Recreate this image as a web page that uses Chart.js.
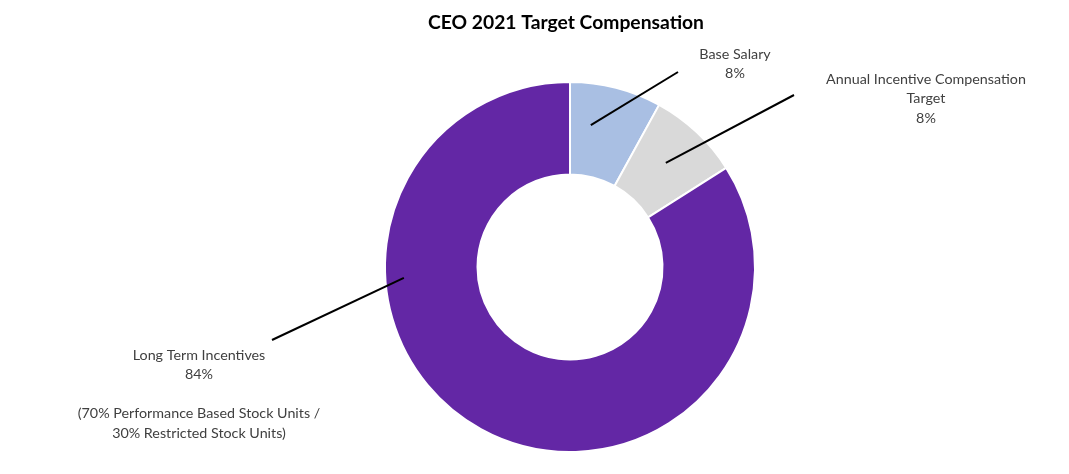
<!DOCTYPE html>
<html>
<head>
<meta charset="utf-8">
<script src="https://cdn.jsdelivr.net/npm/chart.js@4/dist/chart.umd.min.js"></script>
<style>
html,body{margin:0;padding:0;background:#fff;}
#wrap{width:1069px;height:474px;position:relative;}
</style>
</head>
<body>
<div id="wrap"><canvas id="c" width="1069" height="474"></canvas></div>
<script>
const titleText = "CEO 2021 Target Compensation";
const categories = ["Base Salary", "Annual Incentive Compensation Target", "Long Term Incentives"];
const values = [8, 8, 84];
const valueLabels = ["8%", "8%", "84%"];
const labelLines = [
  ["Base Salary", "8%"],
  ["Annual Incentive Compensation", "Target", "8%"],
  ["Long Term Incentives", "84%", "", "(70% Performance Based Stock Units /", "30% Restricted Stock Units)"]
];
const colors = ["#A9BFE3", "#D9D9D9", "#6327A5"];

// leader line geometry (style): start as fraction along slice angle & radius fraction; end as offset from centre; text anchor offset
const leaders = [
  {t:0.29, r:0.775, end:[108,-195], text:[165,-213]},
  {t:0.48, r:0.765, end:[224,-172], text:[356,-188]},
  {t:0.69, r:0.90,  end:[-298,73],  text:[-371,88]}
];

const FONT = "Lato, 'Open Sans', sans-serif";

const labelPlugin = {
  id: 'labelPlugin',
  afterDatasetsDraw(chart) {
    const ctx = chart.ctx;
    const meta = chart.getDatasetMeta(0);
    ctx.save();
    // title
    ctx.fillStyle = "#000";
    ctx.font = "bold 19.3px " + FONT;
    ctx.textAlign = "center";
    ctx.textBaseline = "middle";
    ctx.fillText(titleText, 566, 23);
    meta.data.forEach((arc, i) => {
      const p = arc.getProps(['x','y','startAngle','endAngle','outerRadius'], true);
      const L = leaders[i];
      const ang = p.startAngle + L.t * (p.endAngle - p.startAngle);
      const sx = p.x + Math.cos(ang) * p.outerRadius * L.r;
      const sy = p.y + Math.sin(ang) * p.outerRadius * L.r;
      ctx.strokeStyle = "#000";
      ctx.lineWidth = 2;
      ctx.beginPath();
      ctx.moveTo(sx, sy);
      ctx.lineTo(p.x + L.end[0], p.y + L.end[1]);
      ctx.stroke();
      ctx.fillStyle = "#404040";
      ctx.font = "14.3px " + FONT;
      const lines = labelLines[i];
      lines.forEach((ln, k) => {
        ctx.fillText(ln, p.x + L.text[0], p.y + L.text[1] + k * 19.6);
      });
    });
    ctx.restore();
  }
};

new Chart(document.getElementById('c'), {
  type: 'doughnut',
  data: {
    labels: categories,
    datasets: [{
      data: values,
      backgroundColor: colors,
      borderColor: "#ffffff",
      borderWidth: 2,
      hoverOffset: 0
    }]
  },
  options: {
    responsive: false,
    animation: false,
    cutout: '50%',
    layout: {padding: {left: 384, right: 313, top: 81, bottom: 21}},
    plugins: {
      legend: {display: false},
      title: {display: false},
      tooltip: {enabled: false}
    }
  },
  plugins: [labelPlugin]
});
</script>
</body>
</html>
